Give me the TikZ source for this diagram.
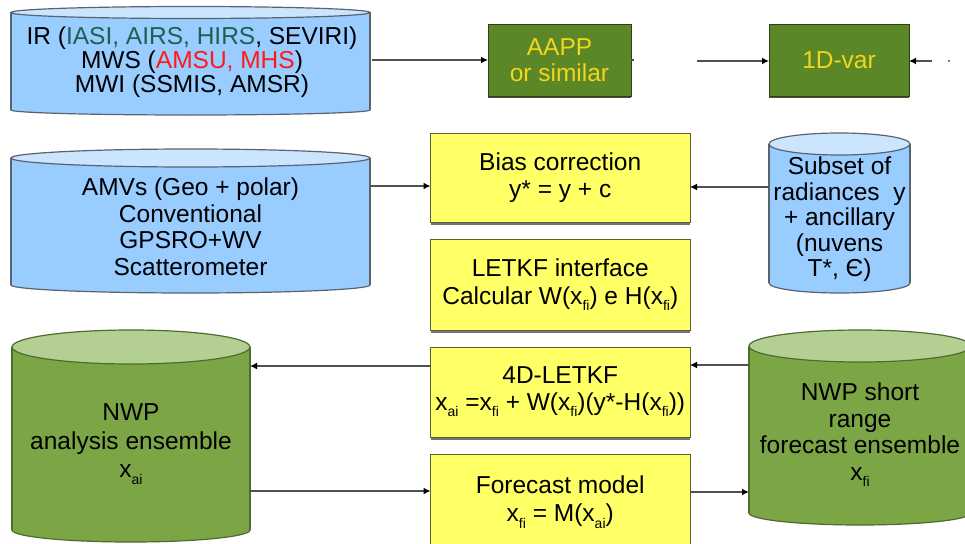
\documentclass[tikz,border=0pt]{standalone}
\usepackage{fontspec}
\setmainfont{Liberation Sans}
\usetikzlibrary{arrows.meta,shadows}
\definecolor{cylblue}{HTML}{99CCFF}
\definecolor{cylbluetop}{HTML}{CCE5FF}
\definecolor{cylblueline}{HTML}{5A6470}
\definecolor{boxgreen}{HTML}{5C8726}
\definecolor{boxgreenline}{HTML}{2F4113}
\definecolor{greentext}{HTML}{F2D51E}
\definecolor{cylgreen}{HTML}{7CA646}
\definecolor{cylgreentop}{HTML}{B4CF92}
\definecolor{cylgreenline}{HTML}{4F6B30}
\definecolor{boxyellow}{HTML}{FFFF66}
\definecolor{boxyellowline}{HTML}{5E5E35}
\definecolor{arrowgray}{HTML}{505050}
\definecolor{tealtext}{HTML}{1E6152}
\definecolor{redtext}{HTML}{FF1A1A}

\newcommand\lowsub[1]{\raisebox{-0.5ex}{\fontsize{14}{14}\selectfont #1}}

% x1 x2 ytop ybot rytop rybot body top line
\newcommand\drawcyl[9]{%
  \pgfmathsetmacro\cylcx{(#1+#2)/2}%
  \pgfmathsetmacro\cylrx{(#2-#1)/2}%
  \fill[#7] (#1,#3) rectangle (#2,#4);
  \fill[#7] (\cylcx,#4) ellipse [x radius=\cylrx, y radius=#6];
  \begin{scope}
    \clip (#1-5,#4) rectangle (#2+5,#4+#6+5);
    \draw[#9, line width=1.2pt] (\cylcx,#4) ellipse [x radius=\cylrx, y radius=#6];
  \end{scope}
  \draw[#9, line width=1.2pt] (#1,#3) -- (#1,#4) (#2,#3) -- (#2,#4);
  \filldraw[fill=#8, draw=#9, line width=1.2pt] (\cylcx,#3) ellipse [x radius=\cylrx, y radius=#5];
}

\tikzset{
  txt/.style={font=\fontsize{24.5}{26.5}\selectfont, align=center, inner sep=0pt, outer sep=0pt},
  cyltext/.style={txt, minimum width=#1, minimum height=10pt},
  greenbox/.style={txt, draw=boxgreenline, fill=boxgreen, line width=0.9pt, text=greentext,
     minimum height=72pt, drop shadow={shadow xshift=0pt, shadow yshift=-2pt, fill=black!70, opacity=1}},
  yellowbox/.style={txt, draw=boxyellowline, fill=boxyellow, line width=0.9pt,
     minimum width=259.5pt, drop shadow={shadow xshift=0pt, shadow yshift=-2.5pt, fill=black!55, opacity=1}},
  arr/.style={draw=arrowgray, line width=1.5pt, -{Latex[length=7pt,width=7pt,color=black]}},
  plainline/.style={draw=arrowgray, line width=1.5pt},
}

\begin{document}
\begin{tikzpicture}[x=1pt,y=-1pt]
\useasboundingbox (0,0) rectangle (965,543);
\clip (0,0) rectangle (965,543);
\fill[white] (0,0) rectangle (965,543);

% cylinders (drawn shapes)
\drawcyl{11}{370}{12.5}{110}{6}{5}{cylblue}{cylbluetop}{cylblueline}
\drawcyl{11}{370}{158}{285}{9}{8}{cylblue}{cylbluetop}{cylblueline}
\drawcyl{769}{910}{144}{283}{11}{10}{cylblue}{cylbluetop}{cylblueline}
\drawcyl{12}{250}{347}{530}{17}{12}{cylgreen}{cylgreentop}{cylgreenline}
\drawcyl{749}{971}{346}{513}{16}{12}{cylgreen}{cylgreentop}{cylgreenline}

% cylinder texts (named nodes)
\node[cyltext=359pt, font=\fontsize{24.5}{22.5}\selectfont] (obs1) at (192,62)
  {IR ({\color{tealtext}IASI, AIRS, HIRS}, SEVIRI)\\MWS ({\color{redtext}AMSU, MHS})\\MWI (SSMIS, AMSR)};
\node[cyltext=359pt] (obs2) at (190.5,226.5)
  {AMVs (Geo + polar)\\Conventional\\GPSRO+WV\\Scatterometer};
\node[cyltext=141pt, font=\fontsize{24.5}{25.5}\selectfont] (subset) at (839.5,219.5)
  {Subset of\\radiances~ y\\+ ancillary\\(nuvens\\T*, Є)};
\node[cyltext=238pt, font=\fontsize{24.5}{28.5}\selectfont] (anal) at (131,444)
  {NWP\\analysis ensemble\\x\lowsub{ai}};
\node[cyltext=222pt] (fcstens) at (860,435)
  {NWP short\\range\\forecast ensemble\\x\lowsub{fi}};

% boxes
\node[greenbox, minimum width=143pt] (aapp) at (559.5,60) {AAPP\\or similar};
\node[greenbox, minimum width=140pt] (onedvar) at (839,60) {1D-var};
\node[yellowbox, minimum height=89pt, font=\fontsize{24.5}{27}\selectfont] (bias) at (560.25,177.5) {Bias correction\\y* = y + c};
\node[yellowbox, minimum height=91pt, font=\fontsize{24.5}{28}\selectfont] (letkf) at (560.25,284.5) {LETKF interface\\Calcular W(x\lowsub{fi}) e H(x\lowsub{fi})};
\node[yellowbox, minimum height=90pt] (fourd) at (560.25,392) {4D-LETKF\\x\lowsub{ai} =x\lowsub{fi} + W(x\lowsub{fi})(y*-H(x\lowsub{fi}))};
\node[yellowbox, minimum height=96pt, font=\fontsize{24.5}{28}\selectfont] (fcst) at (560.25,502) {Forecast model\\x\lowsub{fi} = M(x\lowsub{ai})};

% connectors
\coordinate (gapstart) at (697,61);
\coordinate (rightin) at (932,61);
\draw[arr] (obs1.east |- aapp.west) -- (aapp.west);
\draw[plainline] (aapp.east) -- ++(3,0);
\draw[arr] (gapstart) -- (onedvar.west |- gapstart);
\draw[arr] (rightin) -- (onedvar.east |- rightin);
\fill[arrowgray] (949,61) circle [radius=1.2];
\draw[arr] (obs2.east |- 0,186) -- (bias.west |- 0,186);
\draw[arr] (subset.west |- 0,187) -- (bias.east |- 0,187);
\draw[arr] (fourd.west |- 0,366) -- (anal.east |- 0,366);
\draw[arr] (fcstens.west |- 0,365) -- (fourd.east |- 0,365);
\draw[arr] (anal.east |- 0,491) -- (fcst.west |- 0,491);
\draw[arr] (fcst.east |- 0,492) -- (fcstens.west |- 0,492);
\end{tikzpicture}
\end{document}
